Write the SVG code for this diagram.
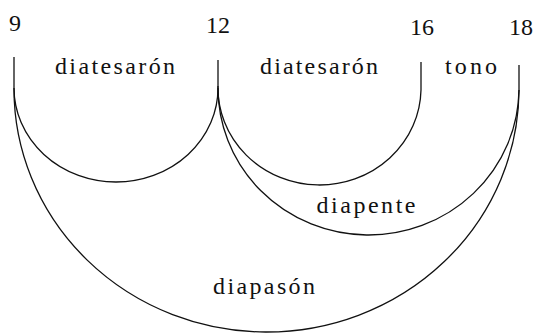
<svg xmlns="http://www.w3.org/2000/svg" width="536" height="333" viewBox="0 0 536 333">
<style>
.ln{fill:none;stroke:#111;stroke-width:1.3}
text{font-family:Liberation Serif,DejaVu Serif,Times New Roman,serif;font-size:24px;fill:#111;text-anchor:middle}
</style>
<rect width="536" height="333" fill="#fff"/>
<g id="connectors">
<path class="ln" d="M14 57 V88"/>
<path class="ln" d="M218 60 V86"/>
<path class="ln" d="M421 62 V90"/>
<path class="ln" d="M519 65 V90"/>
<path class="ln" d="M14 88 A102 94 0 0 0 218 88"/>
<path class="ln" d="M218 86 A101.5 97 0 0 0 421 90"/>
<path class="ln" d="M218 86 A150.5 147 0 0 0 519 90"/>
<path class="ln" d="M14 88 A252.5 243 0 0 0 519 90"/>
</g>
<g id="n9"><text font-family="Liberation Serif" x="15" y="31">9</text></g>
<g id="n12"><text font-family="Liberation Serif" x="218" y="33">12</text></g>
<g id="n16"><text font-family="Liberation Serif" x="422" y="35">16</text></g>
<g id="n18"><text font-family="Liberation Serif" x="521" y="35">18</text></g>
<g id="l1"><text font-family="Liberation Serif" x="115" y="74" textLength="120" lengthAdjust="spacing">diatesarón</text></g>
<g id="l2"><text font-family="Liberation Serif" x="319" y="74" textLength="118" lengthAdjust="spacing">diatesarón</text></g>
<g id="l3"><text font-family="Liberation Serif" x="471" y="74" textLength="52" lengthAdjust="spacing">tono</text></g>
<g id="l4"><text font-family="Liberation Serif" x="366" y="213" textLength="99" lengthAdjust="spacing">diapente</text></g>
<g id="l5"><text font-family="Liberation Serif" x="264" y="294" textLength="102" lengthAdjust="spacing">diapasón</text></g>
</svg>
